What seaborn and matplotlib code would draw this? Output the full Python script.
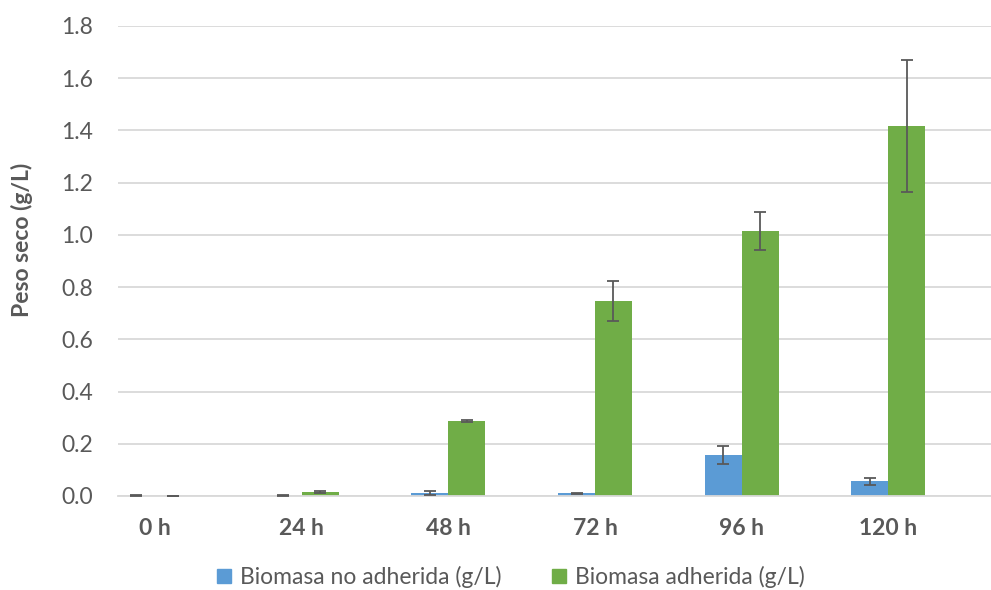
import pandas as pd
import matplotlib
matplotlib.use("Agg")
import matplotlib.pyplot as plt
import seaborn as sns

# data
tiempos = ["0 h", "24 h", "48 h", "72 h", "96 h", "120 h"]
series = ["Biomasa no adherida (g/L)", "Biomasa adherida (g/L)"]
no_adherida = [0.001, 0.001, 0.011, 0.011, 0.157, 0.056]
no_adherida_err = [0.001, 0.001, 0.007, 0.002, 0.034, 0.014]
adherida = [0.001, 0.015, 0.287, 0.747, 1.016, 1.418]
adherida_err = [0.0, 0.003, 0.003, 0.078, 0.072, 0.252]
yticks = [0.0, 0.2, 0.4, 0.6, 0.8, 1.0, 1.2, 1.4, 1.6, 1.8]

colores = ["#5B9BD5", "#70AD47"]
gris = "#595959"
fs = 16.5

df = pd.DataFrame({
    "tiempo": tiempos * 2,
    "serie": [series[0]] * len(tiempos) + [series[1]] * len(tiempos),
    "valor": no_adherida + adherida,
})
errores = [no_adherida_err, adherida_err]

sns.set_style("white")
plt.rcParams["font.family"] = ["Lato", "DejaVu Sans"]

fig = plt.figure(figsize=(9.91, 5.9), dpi=100)
ax = fig.add_axes([118 / 991, 94 / 590, 873 / 991, 470 / 590])

sns.barplot(data=df, x="tiempo", y="valor", hue="serie", order=tiempos,
            hue_order=series, palette=colores, width=0.504, gap=0,
            errorbar=None, saturation=1, linewidth=0, ax=ax)

# error bars at the bar centres
for cont, err in zip(ax.containers, errores):
    xs = [b.get_x() + b.get_width() / 2 for b in cont]
    hs = [b.get_height() for b in cont]
    ax.errorbar(xs, hs, yerr=err, fmt="none", ecolor=gris, elinewidth=1.3,
                capsize=4.5, capthick=1.3, zorder=3)

ax.set_xlim(-0.252, 5.70)
ax.set_ylim(0, 1.8)
ax.set_yticks(yticks)
ax.set_yticklabels([f"{v:.1f}" for v in yticks])
ax.yaxis.grid(True, color="#D9D9D9", linewidth=1.3)
ax.set_axisbelow(True)
for s in ["top", "right", "left"]:
    ax.spines[s].set_visible(False)
ax.spines["bottom"].set_color("#D9D9D9")
ax.spines["bottom"].set_linewidth(1.3)
ax.tick_params(axis="both", length=0, colors=gris, labelsize=fs)
ax.tick_params(axis="y", pad=18)
ax.tick_params(axis="x", pad=16)
for t in ax.get_xticklabels():
    t.set_fontweight("bold")

ax.set_xlabel("")
ax.set_ylabel("")
fig.text(22 / 991, 1 - 240 / 590, "Peso seco (g/L)", rotation=90, ha="center",
         va="center", fontsize=fs, fontweight="bold", color=gris)

ax.legend_.remove()
handles = [plt.Rectangle((0, 0), 1, 1, color=c) for c in colores]
fig.legend(handles, series, loc="center", bbox_to_anchor=(511 / 991, 13 / 590),
           ncol=2, frameon=False, fontsize=fs, labelcolor=gris,
           handlelength=0.6, handleheight=0.6, handletextpad=0.4,
           columnspacing=2.2)

fig.savefig("out.png", dpi=100)
